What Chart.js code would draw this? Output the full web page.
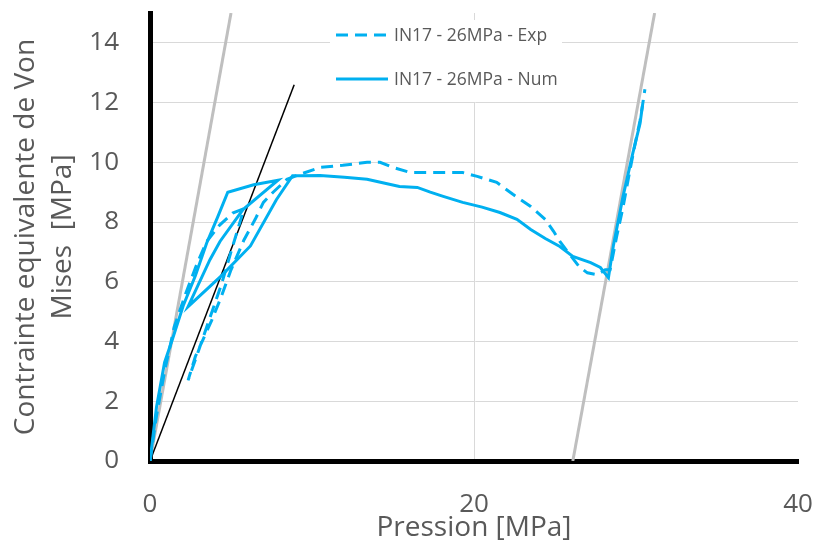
<!DOCTYPE html>
<html>
<head>
<meta charset="utf-8">
<script src="https://cdn.jsdelivr.net/npm/chart.js@4.4.1/dist/chart.umd.min.js"></script>
<style>
    html, body { margin: 0; padding: 0; background: #fff; }
    #wrap { width: 818px; height: 543px; }
</style>
</head>
<body>
<div id="wrap"><canvas id="chart" width="818" height="543"></canvas></div>
<script>
const expLabel = 'IN17 - 26MPa - Exp';
const numLabel = 'IN17 - 26MPa - Num';

const expX = [0, 0.4, 0.9, 1.5, 2.2, 2.9, 3.5, 4.3, 5.1, 5.8, 5.0, 4.4, 3.7, 3.0, 2.35, 2.8, 3.3, 3.8, 4.4, 5.0, 5.8, 6.5, 7.0, 7.6, 8.45, 9.26, 10.5, 11.9, 13.4, 14.2, 15.0, 16.05, 18.1, 19.3, 20.2, 21.4, 22.4, 23.5, 24.4, 24.9, 25.3, 26.5, 27.0, 27.6, 28.1, 28.4, 28.8, 29.2, 29.6, 29.9, 30.25, 30.4, 30.55];
const expY = [0, 1.5, 3.0, 4.5, 5.6, 6.6, 7.35, 7.9, 8.3, 8.45, 7.0, 5.9, 4.8, 3.7, 2.7, 3.5, 4.1, 4.7, 5.5, 6.4, 7.4, 8.1, 8.66, 9.0, 9.43, 9.6, 9.83, 9.9, 10.0, 10.0, 9.83, 9.66, 9.66, 9.66, 9.53, 9.33, 8.93, 8.52, 8.09, 7.7, 7.35, 6.5, 6.3, 6.24, 6.4, 6.4, 7.5, 8.5, 9.66, 10.5, 11.4, 11.9, 12.45];

const numX = [0, 0.4, 0.9, 1.4, 2.05, 2.8, 3.5, 4.2, 4.8, 6.4, 7.9, 5.74, 4.32, 3.7, 2.35, 4.4, 6.2, 7.8, 8.8, 9.3, 10.5, 12.0, 13.4, 14.5, 15.4, 16.5, 17.3, 18.1, 19.3, 20.5, 21.6, 22.65, 23.5, 24.4, 25.3, 26.1, 27.2, 27.8, 28.3, 28.6, 29.2, 29.8, 30.25, 30.35, 30.4];
const numY = [0, 1.8, 3.3, 4.1, 5.2, 6.2, 7.3, 8.2, 9.0, 9.25, 9.4, 8.42, 7.35, 6.74, 5.17, 6.2, 7.2, 8.75, 9.55, 9.55, 9.56, 9.5, 9.43, 9.3, 9.19, 9.16, 9.0, 8.86, 8.66, 8.5, 8.32, 8.09, 7.75, 7.45, 7.18, 6.85, 6.64, 6.48, 6.14, 7.2, 8.86, 10.3, 11.3, 11.7, 11.9];

// guide lines
const elastic1X = [0, 5.0];
const elastic1Y = [0, 15];
const elastic2X = [26.1, 31.15];
const elastic2Y = [0, 15];
const slopeX = [0, 8.9];
const slopeY = [0, 12.6];

const yTicks = [0, 2, 4, 6, 8, 10, 12, 14];
const xTicks = [0, 20, 40];

const textColor = '#595959';
const blue = '#00B0F0';

function toPoints(xs, ys) {
    return xs.map((x, i) => ({ x: x, y: ys[i] }));
}

function noScalePadding(axis) {
    axis.paddingTop = 0;
    axis.paddingBottom = 0;
    axis.paddingLeft = 0;
    axis.paddingRight = 0;
}

const legendBox = {
    id: 'legendBox',
    beforeDatasetsDraw(chart) {
        const ctx = chart.ctx;
        const area = chart.chartArea;
        const left = area.left + 180;
        const top = area.top + 7;
        ctx.save();
        ctx.fillStyle = '#fff';
        ctx.fillRect(left, top, 232, 82);
        ctx.font = '17.5px "Open Sans"';
        ctx.textBaseline = 'middle';
        const items = chart.data.datasets.filter(d => d.inLegend);
        items.forEach((d, i) => {
            const y = top + 15 + i * 44;
            ctx.strokeStyle = d.borderColor;
            ctx.lineWidth = d.borderWidth;
            ctx.setLineDash(d.borderDash || []);
            ctx.beginPath();
            ctx.moveTo(left + 6, y);
            ctx.lineTo(left + 58, y);
            ctx.stroke();
            ctx.setLineDash([]);
            ctx.fillStyle = textColor;
            ctx.fillText(d.label, left + 64, y + 1);
        });
        ctx.restore();
    }
};

const ctx = document.getElementById('chart').getContext('2d');
new Chart(ctx, {
    type: 'scatter',
    data: {
        datasets: [
            {
                label: expLabel,
                inLegend: true,
                data: toPoints(expX, expY),
                showLine: true,
                borderColor: blue,
                borderWidth: 3,
                borderDash: [12, 7],
                pointRadius: 0,
                tension: 0
            },
            {
                label: numLabel,
                inLegend: true,
                data: toPoints(numX, numY),
                showLine: true,
                borderColor: blue,
                borderWidth: 3,
                pointRadius: 0,
                tension: 0
            },
            {
                label: 'slope',
                data: toPoints(slopeX, slopeY),
                showLine: true,
                borderColor: '#000',
                borderWidth: 1.5,
                pointRadius: 0
            },
            {
                label: 'elastic1',
                data: toPoints(elastic1X, elastic1Y),
                showLine: true,
                borderColor: '#BFBFBF',
                borderWidth: 3,
                pointRadius: 0
            },
            {
                label: 'elastic2',
                data: toPoints(elastic2X, elastic2Y),
                showLine: true,
                borderColor: '#BFBFBF',
                borderWidth: 3,
                pointRadius: 0
            }
        ]
    },
    options: {
        responsive: false,
        animation: false,
        layout: { padding: { top: 13, right: 20, left: 0, bottom: 0 } },
        plugins: {
            legend: { display: false },
            tooltip: { enabled: false }
        },
        scales: {
            x: {
                type: 'linear',
                min: 0,
                max: 40,
                afterBuildTicks: axis => { axis.ticks = xTicks.map(v => ({ value: v })); },
                afterFit: axis => { axis.height = 82; noScalePadding(axis); },
                ticks: {
                    color: textColor,
                    font: { family: 'Open Sans', size: 26 },
                    padding: 28,
                    maxRotation: 0
                },
                grid: {
                    color: c => (c.tick && c.tick.value === 20) ? '#D9D9D9' : 'rgba(0,0,0,0)',
                    lineWidth: 1,
                    drawTicks: false
                },
                border: { color: '#000', width: 5 },
                title: {
                    display: true,
                    text: 'Pression [MPa]',
                    color: textColor,
                    font: { family: 'Open Sans', size: 28, lineHeight: 1.1 },
                    padding: 0
                }
            },
            y: {
                type: 'linear',
                min: 0,
                max: 15,
                afterBuildTicks: axis => { axis.ticks = yTicks.map(v => ({ value: v })); },
                afterFit: axis => { axis.width = 150; noScalePadding(axis); },
                ticks: {
                    color: textColor,
                    font: { family: 'Open Sans', size: 26 },
                    padding: 31
                },
                grid: {
                    color: '#D9D9D9',
                    lineWidth: 1,
                    drawTicks: false
                },
                border: { color: '#000', width: 5 },
                title: {
                    display: true,
                    text: ['Contrainte equivalente de Von', 'Mises  [MPa]'],
                    color: textColor,
                    font: { family: 'Open Sans', size: 28, lineHeight: 1.32 },
                    padding: { top: 8, bottom: 0 }
                }
            }
        }
    },
    plugins: [legendBox]
});
</script>
</body>
</html>
